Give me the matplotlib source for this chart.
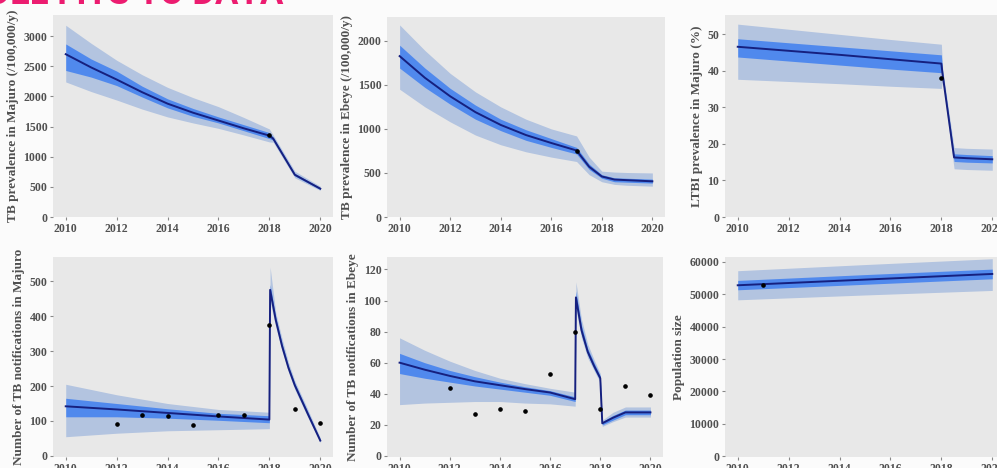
import matplotlib
matplotlib.use("Agg")
import matplotlib.pyplot as plt

# Time points and model output (median, 95% and 50% ranges)

# TB prevalence Majuro
t_prev_maj = [2010, 2011, 2012, 2013, 2014, 2015, 2016, 2017, 2018, 2018.15, 2019, 2020]
med_prev_maj = [2700, 2480, 2280, 2070, 1880, 1730, 1600, 1470, 1350, 1300, 700, 470]
hi95_prev_maj = [3180, 2880, 2600, 2360, 2150, 1980, 1830, 1650, 1460, 1360, 760, 510]
lo95_prev_maj = [2240, 2080, 1940, 1790, 1660, 1560, 1470, 1360, 1245, 1240, 650, 440]
hi50_prev_maj = [2870, 2620, 2420, 2170, 1960, 1800, 1660, 1530, 1400, 1325, 725, 485]
lo50_prev_maj = [2430, 2320, 2180, 1990, 1810, 1670, 1560, 1430, 1300, 1275, 680, 455]
obs_t_prev_maj = [2018]
obs_prev_maj = [1355]

# TB prevalence Ebeye
t_prev_ebe = [2010, 2011, 2012, 2013, 2014, 2015, 2016, 2017, 2017.5, 2018, 2018.5, 2019, 2020]
med_prev_ebe = [1826, 1580, 1370, 1190, 1045, 930, 840, 755, 570, 460, 425, 418, 405]
hi95_prev_ebe = [2180, 1890, 1630, 1420, 1250, 1110, 1000, 920, 680, 520, 510, 505, 500]
lo95_prev_ebe = [1450, 1250, 1080, 930, 820, 740, 680, 630, 480, 400, 370, 360, 350]
hi50_prev_ebe = [1950, 1690, 1460, 1270, 1110, 990, 890, 790, 600, 480, 445, 440, 430]
lo50_prev_ebe = [1690, 1470, 1280, 1110, 980, 870, 790, 715, 540, 440, 400, 395, 385]
obs_t_prev_ebe = [2017]
obs_prev_ebe = [750]

# LTBI prevalence Majuro (%)
t_ltbi = [2010, 2012, 2014, 2016, 2018, 2018.05, 2018.5, 2019, 2020]
med_ltbi = [46.6, 45.5, 44.4, 43.2, 42.0, 39.0, 16.3, 16.1, 15.8]
hi95_ltbi = [52.8, 51.4, 50.0, 48.6, 47.3, 40.5, 19.0, 18.8, 18.6]
lo95_ltbi = [37.7, 37.1, 36.5, 35.8, 35.2, 37.5, 13.2, 13.0, 12.8]
hi50_ltbi = [48.8, 47.7, 46.6, 45.5, 44.4, 39.7, 17.3, 17.1, 16.8]
lo50_ltbi = [43.8, 42.7, 41.6, 40.5, 39.5, 38.3, 15.2, 15.0, 14.8]
obs_t_ltbi = [2018]
obs_ltbi = [38]

# TB notifications Majuro
t_not_maj = [2010, 2012, 2014, 2016, 2018, 2018.03, 2018.25, 2018.5, 2018.75, 2019, 2019.5, 2020]
med_not_maj = [142, 133, 123, 113, 104, 475, 389, 314, 252, 202, 122, 44]
hi95_not_maj = [205, 175, 150, 133, 125, 540, 410, 335, 268, 215, 135, 52]
lo95_not_maj = [55, 65, 72, 75, 78, 440, 370, 300, 240, 190, 112, 38]
hi50_not_maj = [165, 150, 135, 122, 115, 490, 398, 322, 258, 208, 128, 47]
lo50_not_maj = [112, 112, 108, 102, 95, 460, 380, 306, 246, 196, 117, 41]
obs_t_not_maj = [2012, 2013, 2014, 2015, 2016, 2017, 2018, 2019, 2020]
obs_not_maj = [90, 116, 115, 89, 117, 117, 375, 135, 95]

# TB notifications Ebeye
t_not_ebe = [2010, 2011, 2012, 2013, 2014, 2015, 2016, 2017, 2017.03, 2017.25, 2017.5,
             2017.75, 2018, 2018.08, 2018.5, 2019, 2020]
med_not_ebe = [60, 55.5, 51.5, 48, 45.5, 43, 40.8, 36.5, 102, 81, 67, 58, 50, 21, 24.5, 28, 28]
hi95_not_ebe = [76, 68, 61, 55, 50, 46.5, 43.5, 41, 112, 88, 72, 62, 53, 23, 28, 31.5, 31.5]
lo95_not_ebe = [33, 34, 34.5, 35, 35, 34, 33.5, 32, 94, 76, 63, 55, 47, 19, 22, 25, 25]
hi50_not_ebe = [66, 60, 55, 51, 47.5, 44.5, 42, 38, 106, 84, 69, 60, 51.5, 22, 26, 29.5, 29.5]
lo50_not_ebe = [53, 50, 47.5, 45, 43, 41, 39, 35, 98, 78, 65, 56, 48.5, 20, 23, 26.5, 26.5]
obs_t_not_ebe = [2012, 2013, 2014, 2015, 2016, 2017, 2018, 2019, 2020]
obs_not_ebe = [44, 27, 30, 29, 53, 80, 30, 45, 39]

# Population size
t_pop = [2010, 2015, 2020]
med_pop = [52800, 54550, 56300]
hi95_pop = [57300, 59200, 61000]
lo95_pop = [48300, 49800, 51200]
hi50_pop = [54300, 56100, 57800]
lo50_pop = [51400, 53100, 54800]
obs_t_pop = [2011]
obs_pop = [53000]

x_ticks = [2010, 2012, 2014, 2016, 2018, 2020]

W, H = 997, 468
fig = plt.figure(figsize=(W / 100, H / 100), dpi=100)
fig.patch.set_facecolor("#fbfbfb")

# Pink slide title, mostly cut off at the top edge
fig.text(283 / W, 1 - 4 / H, "MODEL FITS TO DATA", color="#ec1c70",
         fontsize=25, fontweight="bold", family="Roboto", ha="right", va="baseline")

TXT = "#505050"
FONT = dict(family="Liberation Serif", fontweight="bold", color=TXT)


def painel(rect, t, med, lo95, hi95, lo50, hi50, obs_t, obs, ylabel, ylim, yticks):
    ax = fig.add_axes(rect)
    ax.set_facecolor("#e8e8e8")
    ax.fill_between(t, lo95, hi95, color="#b0c2e0", alpha=0.95, linewidth=0)
    ax.fill_between(t, lo50, hi50, color="#3f7ff0", alpha=0.85, linewidth=0)
    ax.plot(t, med, color="#16207f", linewidth=1.4)
    ax.plot(obs_t, obs, "o", color="black", markersize=2.3)
    ax.set_xlim(2009.5, 2020.5)
    ax.set_ylim(*ylim)
    ax.set_xticks(x_ticks)
    ax.set_yticks(yticks)
    for s in ax.spines.values():
        s.set_visible(False)
    ax.tick_params(length=2.5, width=0.8, color="#888888", labelsize=8.5, pad=1.5)
    for lab in ax.get_xticklabels() + ax.get_yticklabels():
        lab.set_family("Liberation Serif")
        lab.set_fontweight("bold")
        lab.set_color(TXT)
    ax.set_ylabel(ylabel, fontsize=9.5, labelpad=3, **FONT)
    return ax


top_b, top_h = (H - 217) / H, 202 / H
bot_b, bot_h = (H - 457) / H, 200 / H

painel([53 / W, top_b, 280 / W, top_h], t_prev_maj, med_prev_maj, lo95_prev_maj, hi95_prev_maj,
       lo50_prev_maj, hi50_prev_maj, obs_t_prev_maj, obs_prev_maj,
       "TB prevalence in Majuro (/100,000/y)", (0, 3350), range(0, 3001, 500))
painel([387 / W, top_b, 278 / W, 200 / H], t_prev_ebe, med_prev_ebe, lo95_prev_ebe, hi95_prev_ebe,
       lo50_prev_ebe, hi50_prev_ebe, obs_t_prev_ebe, obs_prev_ebe,
       "TB prevalence in Ebeye (/100,000/y)", (0, 2270), range(0, 2001, 500))
painel([725 / W, top_b, 280 / W, top_h], t_ltbi, med_ltbi, lo95_ltbi, hi95_ltbi,
       lo50_ltbi, hi50_ltbi, obs_t_ltbi, obs_ltbi,
       "LTBI prevalence in Majuro (%)", (0, 55.3), range(0, 51, 10))
painel([53 / W, bot_b, 280 / W, bot_h], t_not_maj, med_not_maj, lo95_not_maj, hi95_not_maj,
       lo50_not_maj, hi50_not_maj, obs_t_not_maj, obs_not_maj,
       "Number of TB notifications in Majuro", (-3, 569), range(0, 501, 100))
painel([387 / W, bot_b, 276 / W, bot_h], t_not_ebe, med_not_ebe, lo95_not_ebe, hi95_not_ebe,
       lo50_not_ebe, hi50_not_ebe, obs_t_not_ebe, obs_not_ebe,
       "Number of TB notifications in Ebeye", (-0.7, 128), range(0, 121, 20))
painel([725 / W, bot_b, 280 / W, bot_h], t_pop, med_pop, lo95_pop, hi95_pop,
       lo50_pop, hi50_pop, obs_t_pop, obs_pop,
       "Population size", (-300, 61540), range(0, 60001, 10000))

fig.savefig("out.png", dpi=100, facecolor=fig.get_facecolor())
